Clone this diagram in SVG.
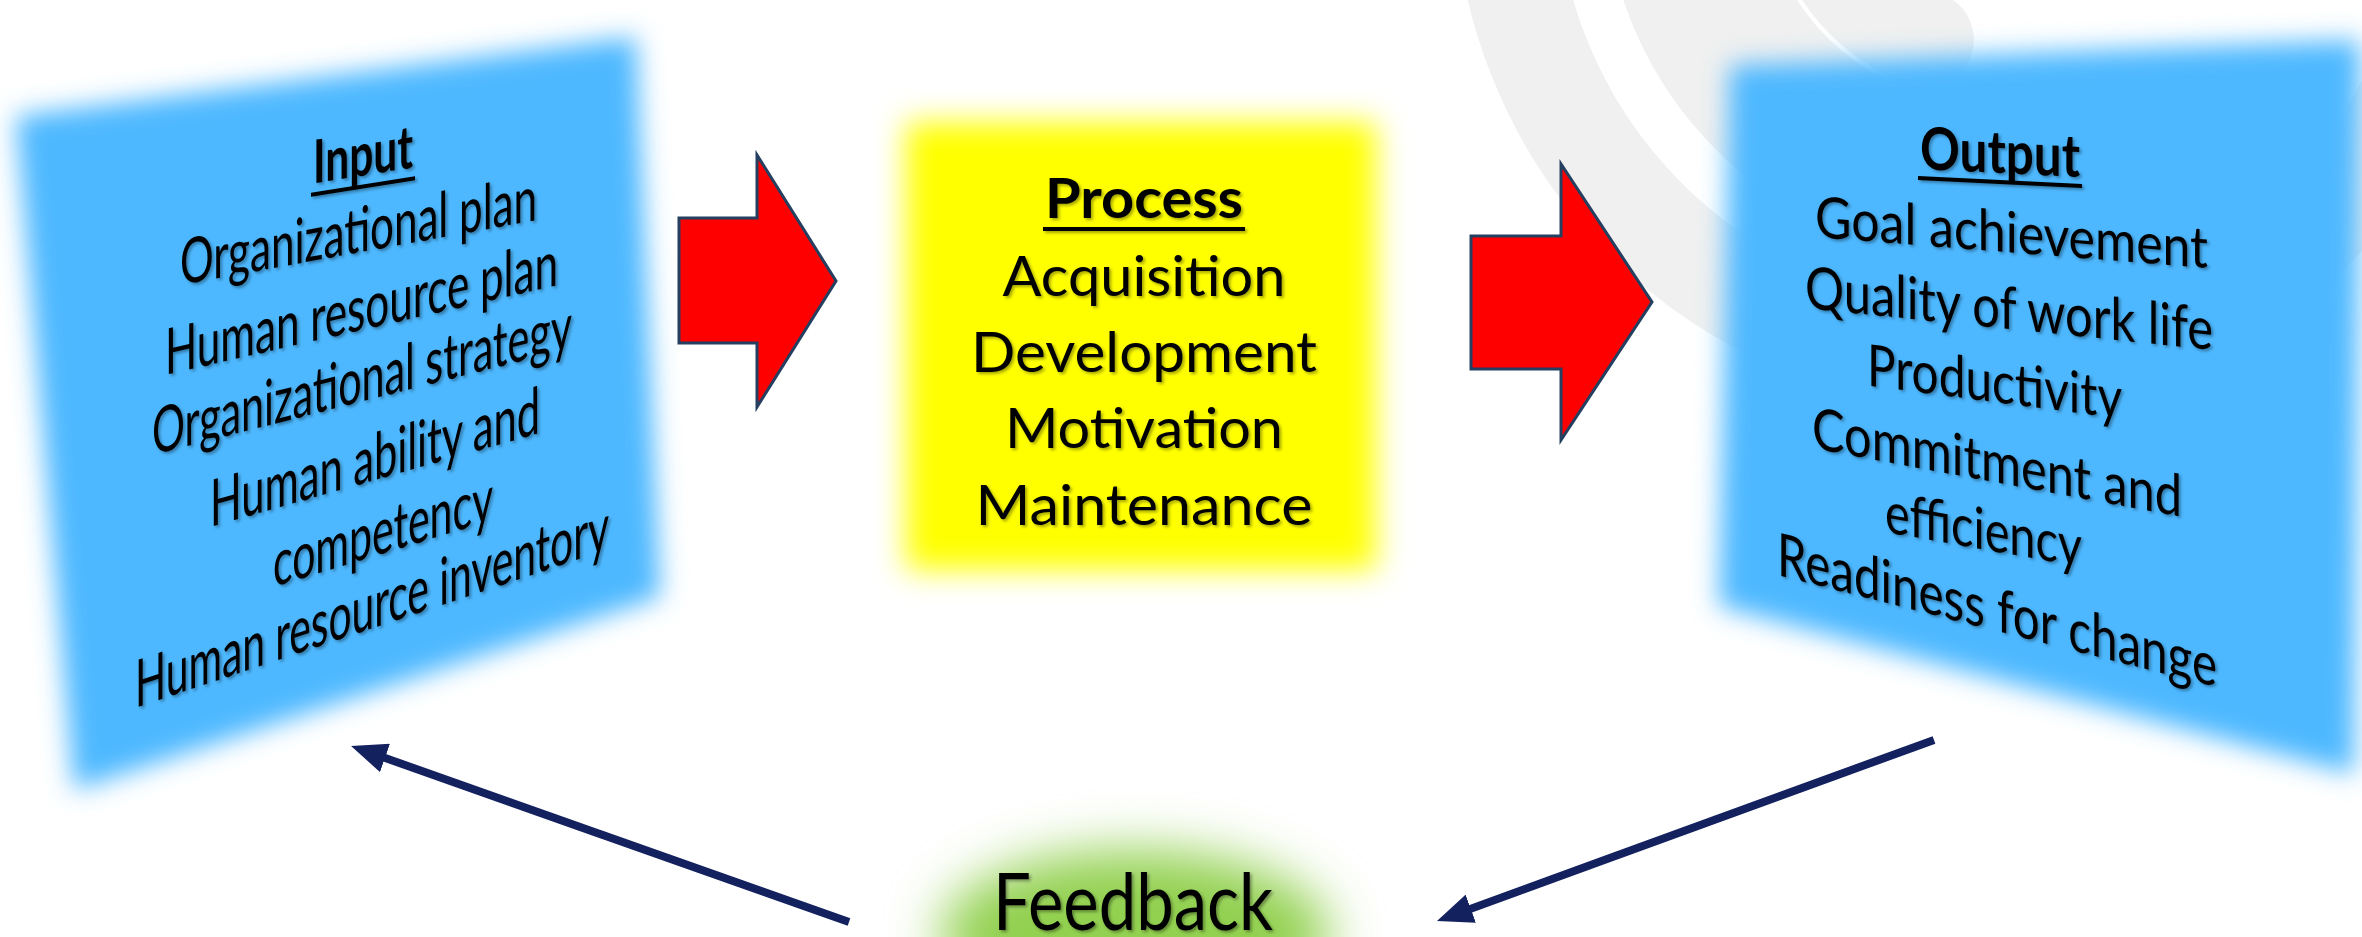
<svg xmlns="http://www.w3.org/2000/svg" width="2362" height="937" viewBox="0 0 2362 937">
  <defs>
    <!-- soft-edged fills -->
    <filter id="soft" x="-15%" y="-15%" width="130%" height="130%">
      <feGaussianBlur stdDeviation="13"/>
    </filter>
    <filter id="softBox" x="-25%" y="-25%" width="150%" height="150%">
      <feGaussianBlur stdDeviation="15"/>
    </filter>
    <filter id="glow" x="-60%" y="-100%" width="220%" height="300%">
      <feGaussianBlur stdDeviation="26"/>
    </filter>
    <!-- light text shadow -->
    <filter id="shadow" x="-10%" y="-10%" width="120%" height="120%">
      <feDropShadow dx="2" dy="2" stdDeviation="1.5" flood-color="#000" flood-opacity="0.35"/>
    </filter>
    <marker id="head" markerUnits="userSpaceOnUse" markerWidth="36" markerHeight="30" viewBox="0 0 36 30" refX="2" refY="15" orient="auto">
      <path d="M0,0 L36,15 L0,30 z" fill="#14215F"/>
    </marker>
  </defs>
  <style>
    .t { font-family: Lato, "Open Sans", "Liberation Sans", sans-serif; fill: #000; }
    .b { font-weight: 700; }
    .ul { stroke: #000; stroke-width: 4; }
    .wm { fill: none; stroke: #F0F0F0; }
    .panel { fill: #4DB8FF; filter: url(#soft); }
    .red { fill: #FF0000; stroke: #243F60; stroke-width: 3; }
    .fb { stroke: #14215F; stroke-width: 8; fill: none; marker-end: url(#head); }
  </style>

  <rect width="2362" height="937" fill="#FFFFFF"/>

  <!-- faint concentric arcs in the background -->
  <g id="watermark">
    <circle class="wm" cx="1984" cy="-120" r="479" stroke-width="102"/>
    <path class="wm" d="M2134.5 140.7 A301 301 0 0 1 1701.1 -223" stroke-width="158"/>
    <path class="wm" d="M1925.9 39.7 A170 170 0 0 1 1824.3 -178.1" stroke-width="96" stroke-linecap="round"/>
  </g>

  <!-- Input -->
  <g id="node-input">
    <polygon class="panel" points="16,116 636,37 660,597 74,790"/>
    <g filter="url(#shadow)">
      <text class="t b" transform="matrix(1 -0.16 0 1 363 175.5)" x="-50" y="0" font-size="60" textLength="100" lengthAdjust="spacingAndGlyphs">Input</text>
      <line class="ul" transform="matrix(1 -0.16 0 1 363 175.5)" x1="-52" y1="11" x2="52" y2="11"/>
      <text class="t" transform="matrix(1 -0.182 0 1 358.5 252.5)" x="-178.5" y="0" font-size="63" textLength="357" lengthAdjust="spacingAndGlyphs">Organizational plan</text>
      <text class="t" transform="matrix(1 -0.229 0 1 361.5 330)" x="-196.5" y="0" font-size="64" textLength="393" lengthAdjust="spacingAndGlyphs">Human resource plan</text>
      <text class="t" transform="matrix(1 -0.255 0 1 362 401.5)" x="-210" y="0" font-size="64" textLength="420" lengthAdjust="spacingAndGlyphs">Organizational strategy</text>
      <text class="t" transform="matrix(1 -0.285 0 1 375 480)" x="-165" y="0" font-size="65" textLength="330" lengthAdjust="spacingAndGlyphs">Human ability and</text>
      <text class="t" transform="matrix(1 -0.305 0 1 383 553.5)" x="-110" y="0" font-size="65" textLength="220" lengthAdjust="spacingAndGlyphs">competency</text>
      <text class="t" transform="matrix(1 -0.335 0 1 372 628.5)" x="-237" y="0" font-size="66" textLength="474" lengthAdjust="spacingAndGlyphs">Human resource inventory</text>
    </g>
  </g>

  <!-- Process -->
  <g id="node-process">
    <rect x="906" y="122" width="470" height="448" fill="#FFFF00" filter="url(#softBox)"/>
    <g filter="url(#shadow)">
      <text class="t b" x="1045" y="218" font-size="55" textLength="198" lengthAdjust="spacingAndGlyphs">Process</text>
      <line class="ul" x1="1043" y1="229" x2="1245" y2="229"/>
      <text class="t" x="1002.5" y="296" font-size="57" textLength="283" lengthAdjust="spacingAndGlyphs">Acquisition</text>
      <text class="t" x="971" y="372" font-size="57" textLength="346" lengthAdjust="spacingAndGlyphs">Development</text>
      <text class="t" x="1005" y="448" font-size="57" textLength="278" lengthAdjust="spacingAndGlyphs">Motivation</text>
      <text class="t" x="975.5" y="525" font-size="57" textLength="337" lengthAdjust="spacingAndGlyphs">Maintenance</text>
    </g>
  </g>

  <!-- Output -->
  <g id="node-output">
    <polygon class="panel" points="1730,65 2360,40 2354,774 1719,606"/>
    <g filter="url(#shadow)">
      <text class="t b" transform="matrix(1 0.05 0 1 2000 173)" x="-80" y="0" font-size="59" textLength="160" lengthAdjust="spacingAndGlyphs">Output</text>
      <line class="ul" transform="matrix(1 0.05 0 1 2000 173)" x1="-82" y1="9" x2="82" y2="9"/>
      <text class="t" transform="matrix(1 0.079 0 1 2011.5 252.5)" x="-196.5" y="0" font-size="57" textLength="393" lengthAdjust="spacingAndGlyphs">Goal achievement</text>
      <text class="t" transform="matrix(1 0.103 0 1 2009 329)" x="-204" y="0" font-size="59" textLength="408" lengthAdjust="spacingAndGlyphs">Quality of work life</text>
      <text class="t" transform="matrix(1 0.13 0 1 1994.5 402)" x="-127.5" y="0" font-size="58" textLength="255" lengthAdjust="spacingAndGlyphs">Productivity</text>
      <text class="t" transform="matrix(1 0.186 0 1 1997 482.5)" x="-185" y="0" font-size="58" textLength="370" lengthAdjust="spacingAndGlyphs">Commitment and</text>
      <text class="t" transform="matrix(1 0.178 0 1 1983.5 549.5)" x="-98.5" y="0" font-size="58" textLength="197" lengthAdjust="spacingAndGlyphs">efficiency</text>
      <text class="t" transform="matrix(1 0.255 0 1 1997 631)" x="-220" y="0" font-size="60" textLength="440" lengthAdjust="spacingAndGlyphs">Readiness for change</text>
    </g>
  </g>

  <!-- Feedback -->
  <g id="node-feedback">
    <ellipse cx="1135" cy="935" rx="195" ry="85" fill="#92D050" filter="url(#glow)"/>
    <text class="t" x="993" y="930" font-size="80" textLength="280" lengthAdjust="spacingAndGlyphs" filter="url(#shadow)">Feedback</text>
  </g>

  <!-- Connectors -->
  <g id="connectors">
    <polygon class="red" points="679,218 757,218 757,155 836,281 757,407 757,343 679,343"/>
    <polygon class="red" points="1471,236 1561,236 1561,164 1652,302 1561,440 1561,369 1471,369"/>
    <line class="fb" x1="849" y1="922" x2="383.1" y2="757.3"/>
    <line class="fb" x1="1934" y1="740" x2="1468.9" y2="909.4"/>
  </g>
</svg>
